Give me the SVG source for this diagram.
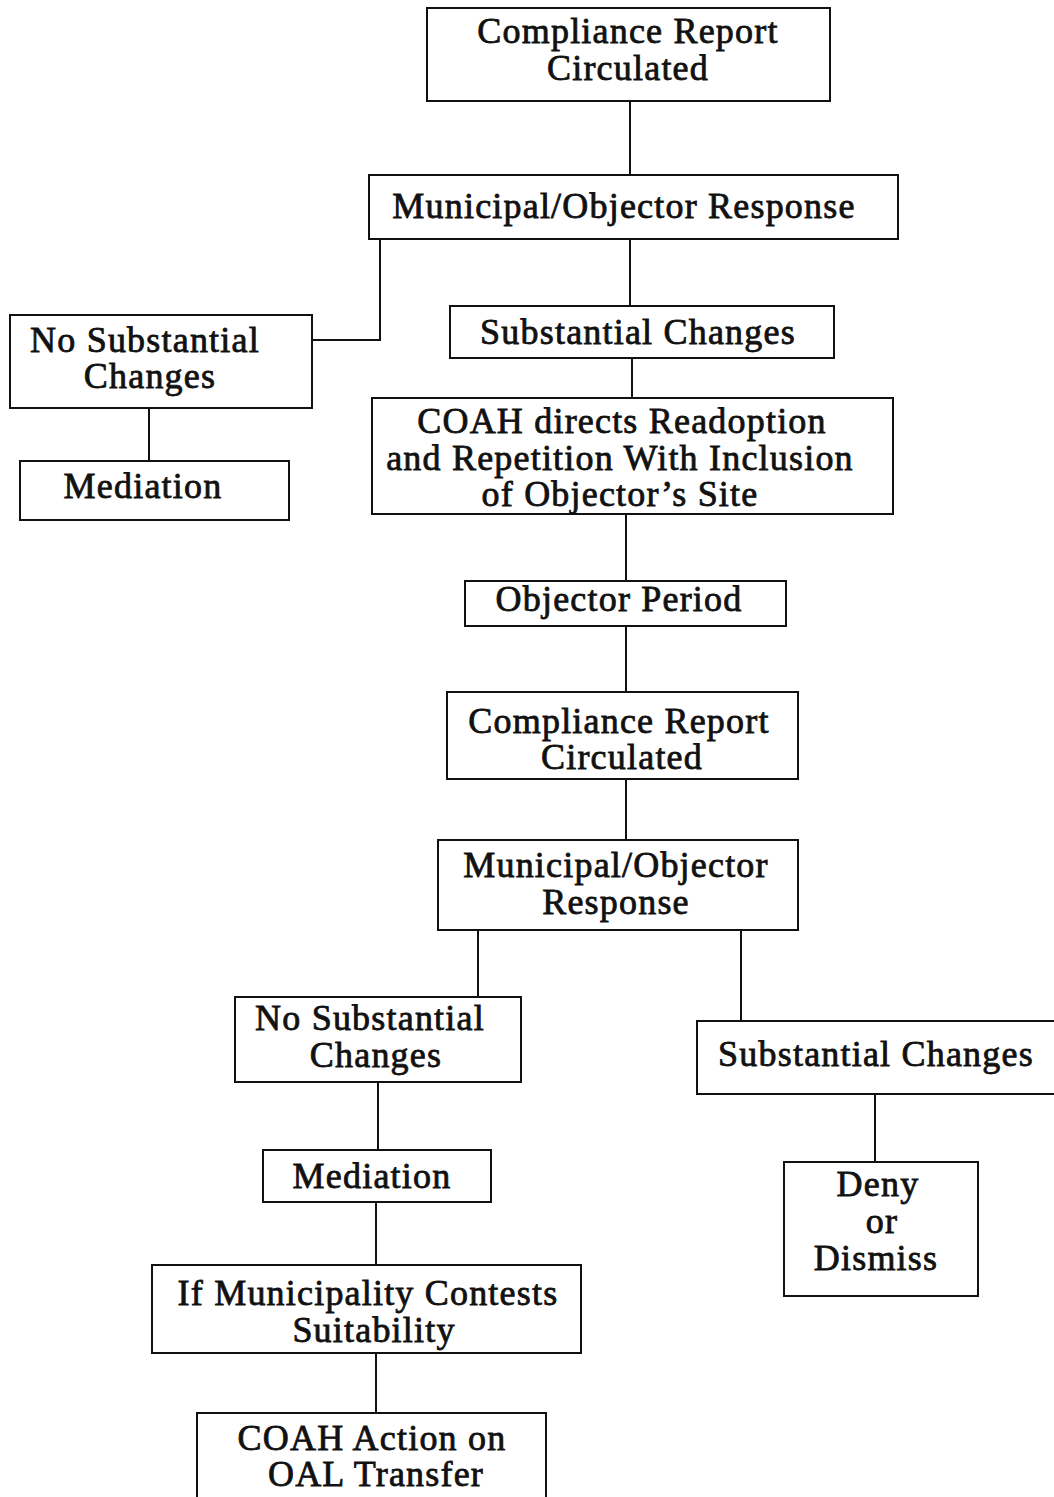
<svg xmlns="http://www.w3.org/2000/svg" width="1054" height="1497" viewBox="0 0 1054 1497">
<style>
rect.box{fill:#fff;stroke:#111;stroke-width:2}
text{font-family:"Liberation Serif","Times New Roman",serif;font-size:36px;fill:#111;stroke:#111;stroke-width:0.8px;text-anchor:middle;letter-spacing:1.2px}
.conn line,.conn polyline{stroke:#111;stroke-width:2;fill:none}
</style>
<rect width="1054" height="1497" fill="#fff"/>
<g class="conn" id="connectors">
<line x1="630" y1="101" x2="630" y2="175"/>
<line x1="630" y1="239" x2="630" y2="306"/>
<polyline points="380,239 380,340 312,340"/>
<line x1="149" y1="408" x2="149" y2="461"/>
<line x1="632" y1="358" x2="632" y2="398"/>
<line x1="626" y1="514" x2="626" y2="581"/>
<line x1="626" y1="626" x2="626" y2="692"/>
<line x1="626" y1="779" x2="626" y2="840"/>
<line x1="478" y1="930" x2="478" y2="997"/>
<line x1="741" y1="930" x2="741" y2="1021"/>
<line x1="378" y1="1082" x2="378" y2="1150"/>
<line x1="875" y1="1094" x2="875" y2="1162"/>
<line x1="376" y1="1202" x2="376" y2="1265"/>
<line x1="376" y1="1353" x2="376" y2="1413"/>
</g>
<g id="n1"><rect class="box" x="427" y="8" width="403" height="93"/><text x="628" y="43">Compliance Report</text><text x="628" y="80">Circulated</text></g>
<g id="n2"><rect class="box" x="369" y="175" width="529" height="64"/><text x="624" y="218">Municipal/Objector Response</text></g>
<g id="n3"><rect class="box" x="10" y="315" width="302" height="93"/><text x="145" y="352">No Substantial</text><text x="150" y="388">Changes</text></g>
<g id="n4"><rect class="box" x="20" y="461" width="269" height="59"/><text x="143" y="498">Mediation</text></g>
<g id="n5"><rect class="box" x="450" y="306" width="384" height="52"/><text x="638" y="344">Substantial Changes</text></g>
<g id="n6"><rect class="box" x="372" y="398" width="521" height="116"/><text x="622" y="433">COAH directs Readoption</text><text x="620" y="470">and Repetition With Inclusion</text><text x="620" y="506">of Objector’s Site</text></g>
<g id="n7"><rect class="box" x="465" y="581" width="321" height="45"/><text x="619" y="611">Objector Period</text></g>
<g id="n8"><rect class="box" x="447" y="692" width="351" height="87"/><text x="619" y="733">Compliance Report</text><text x="622" y="769">Circulated</text></g>
<g id="n9"><rect class="box" x="438" y="840" width="360" height="90"/><text x="616" y="877">Municipal/Objector</text><text x="616" y="914">Response</text></g>
<g id="n10"><rect class="box" x="235" y="997" width="286" height="85"/><text x="370" y="1030">No Substantial</text><text x="376" y="1067">Changes</text></g>
<g id="n11"><rect class="box" x="697" y="1021" width="370" height="73"/><text x="876" y="1066">Substantial Changes</text></g>
<g id="n12"><rect class="box" x="784" y="1162" width="194" height="134"/><text x="878" y="1196">Deny</text><text x="882" y="1233">or</text><text x="876" y="1270">Dismiss</text></g>
<g id="n13"><rect class="box" x="263" y="1150" width="228" height="52"/><text x="372" y="1188">Mediation</text></g>
<g id="n14"><rect class="box" x="152" y="1265" width="429" height="88"/><text x="368" y="1305">If Municipality Contests</text><text x="374" y="1342">Suitability</text></g>
<g id="n15"><rect class="box" x="197" y="1413" width="349" height="100"/><text x="372" y="1450">COAH Action on</text><text x="376" y="1486">OAL Transfer</text></g>
</svg>
